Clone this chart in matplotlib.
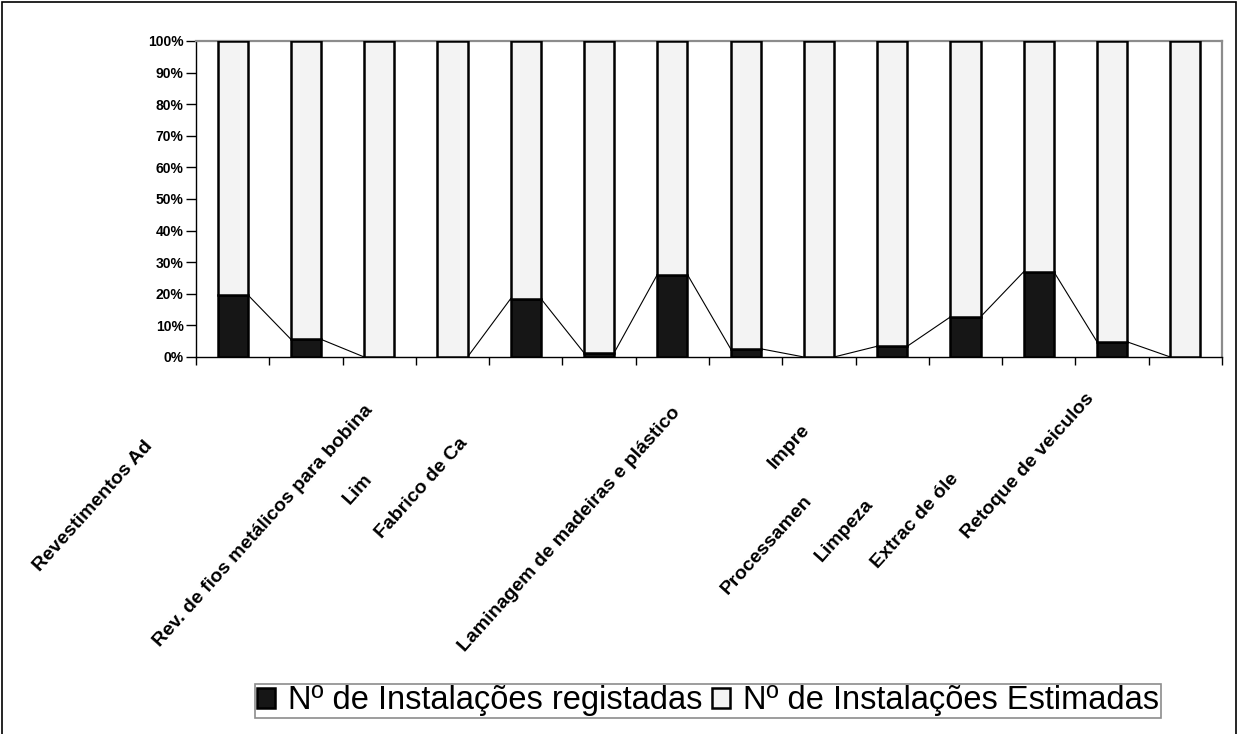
import matplotlib
matplotlib.use('Agg')
import matplotlib.pyplot as plt
from matplotlib.patches import Rectangle
import numpy as np

plt.rcParams['font.family'] = ['Liberation Sans', 'DejaVu Sans']

# share of installations per sector (%)
registadas = [19.7, 5.6, 0.0, 0.0, 18.5, 1.3, 26.1, 2.6, 0.0, 3.4, 12.7, 27.0, 4.8, 0.0]
estimadas = [100 - v for v in registadas]

sector_labels = ['Revestimentos Ad', 'Rev. de fios metálicos para bobina', 'Lim',
                 'Fabrico de Ca', 'Laminagem de madeiras e plástico', 'Impre',
                 'Processamen', 'Limpeza', 'Extrac de óle', 'Retoque de veiculos']
# where each label starts (pixels from top-left)
label_starts = [(40, 572), (160, 647), (350, 505), (382, 539), (465, 652),
                (775, 469), (728, 595), (822, 562), (878, 569), (968, 539)]

W, H = 1239, 734
fig = plt.figure(figsize=(W / 100, H / 100), dpi=100)
ax = fig.add_axes([196 / W, 1 - 357 / H, (1222 - 196) / W, (357 - 41) / H])

x = np.arange(len(registadas))
bw = 0.41
b1 = ax.bar(x, registadas, bw, color='#161616', edgecolor='black', linewidth=1.8,
            label='Nº de Instalações registadas', zorder=3)
b2 = ax.bar(x, estimadas, bw, bottom=registadas, color='#f3f3f3', edgecolor='black',
            linewidth=1.8, label='Nº de Instalações Estimadas', zorder=3)

# series lines joining the tops of the dark segments
for i in range(len(x) - 1):
    ax.plot([x[i] + bw / 2, x[i + 1] - bw / 2], [registadas[i], registadas[i + 1]],
            color='black', lw=0.8, zorder=2)

ax.set_xlim(-0.5, len(x) - 0.5)
ax.set_ylim(0, 100)
ax.set_yticks(np.arange(0, 101, 10))
ax.set_yticklabels(['%d%%' % v for v in range(0, 101, 10)], fontsize=10, fontweight='bold')
ax.set_xticks(np.arange(-0.5, len(x), 1.0))
ax.set_xticklabels([])
ax.tick_params(axis='y', length=7, width=1, pad=2)
ax.tick_params(axis='x', length=6, width=1)
for s in ['top', 'right']:
    ax.spines[s].set_color('#8c8c8c')
    ax.spines[s].set_linewidth(1.6)
for s in ['left', 'bottom']:
    ax.spines[s].set_linewidth(1.0)

for lab, (px, py) in zip(sector_labels, label_starts):
    fig.text(px / W, 1 - py / H, lab, rotation=48, rotation_mode='anchor',
             ha='left', va='baseline', fontsize=14, fontweight='bold')

leg = fig.legend(handles=[b1, b2], loc='center', bbox_to_anchor=(708 / W, 1 - 701 / H),
                 ncol=2, fontsize=23.5, frameon=True, fancybox=False,
                 handlelength=0.55, handleheight=0.55, handletextpad=0.4,
                 columnspacing=0.3, borderpad=0.05, borderaxespad=0)
leg.get_frame().set_edgecolor('#707070')
leg.get_frame().set_linewidth(1.2)

# chart area border
fig.patches.append(Rectangle((2 / W, -0.1), (W - 5) / W, 1.1 - 2 / H, transform=fig.transFigure,
                             fill=False, edgecolor='black', linewidth=1.2))

fig.savefig('out.png', dpi=100)
